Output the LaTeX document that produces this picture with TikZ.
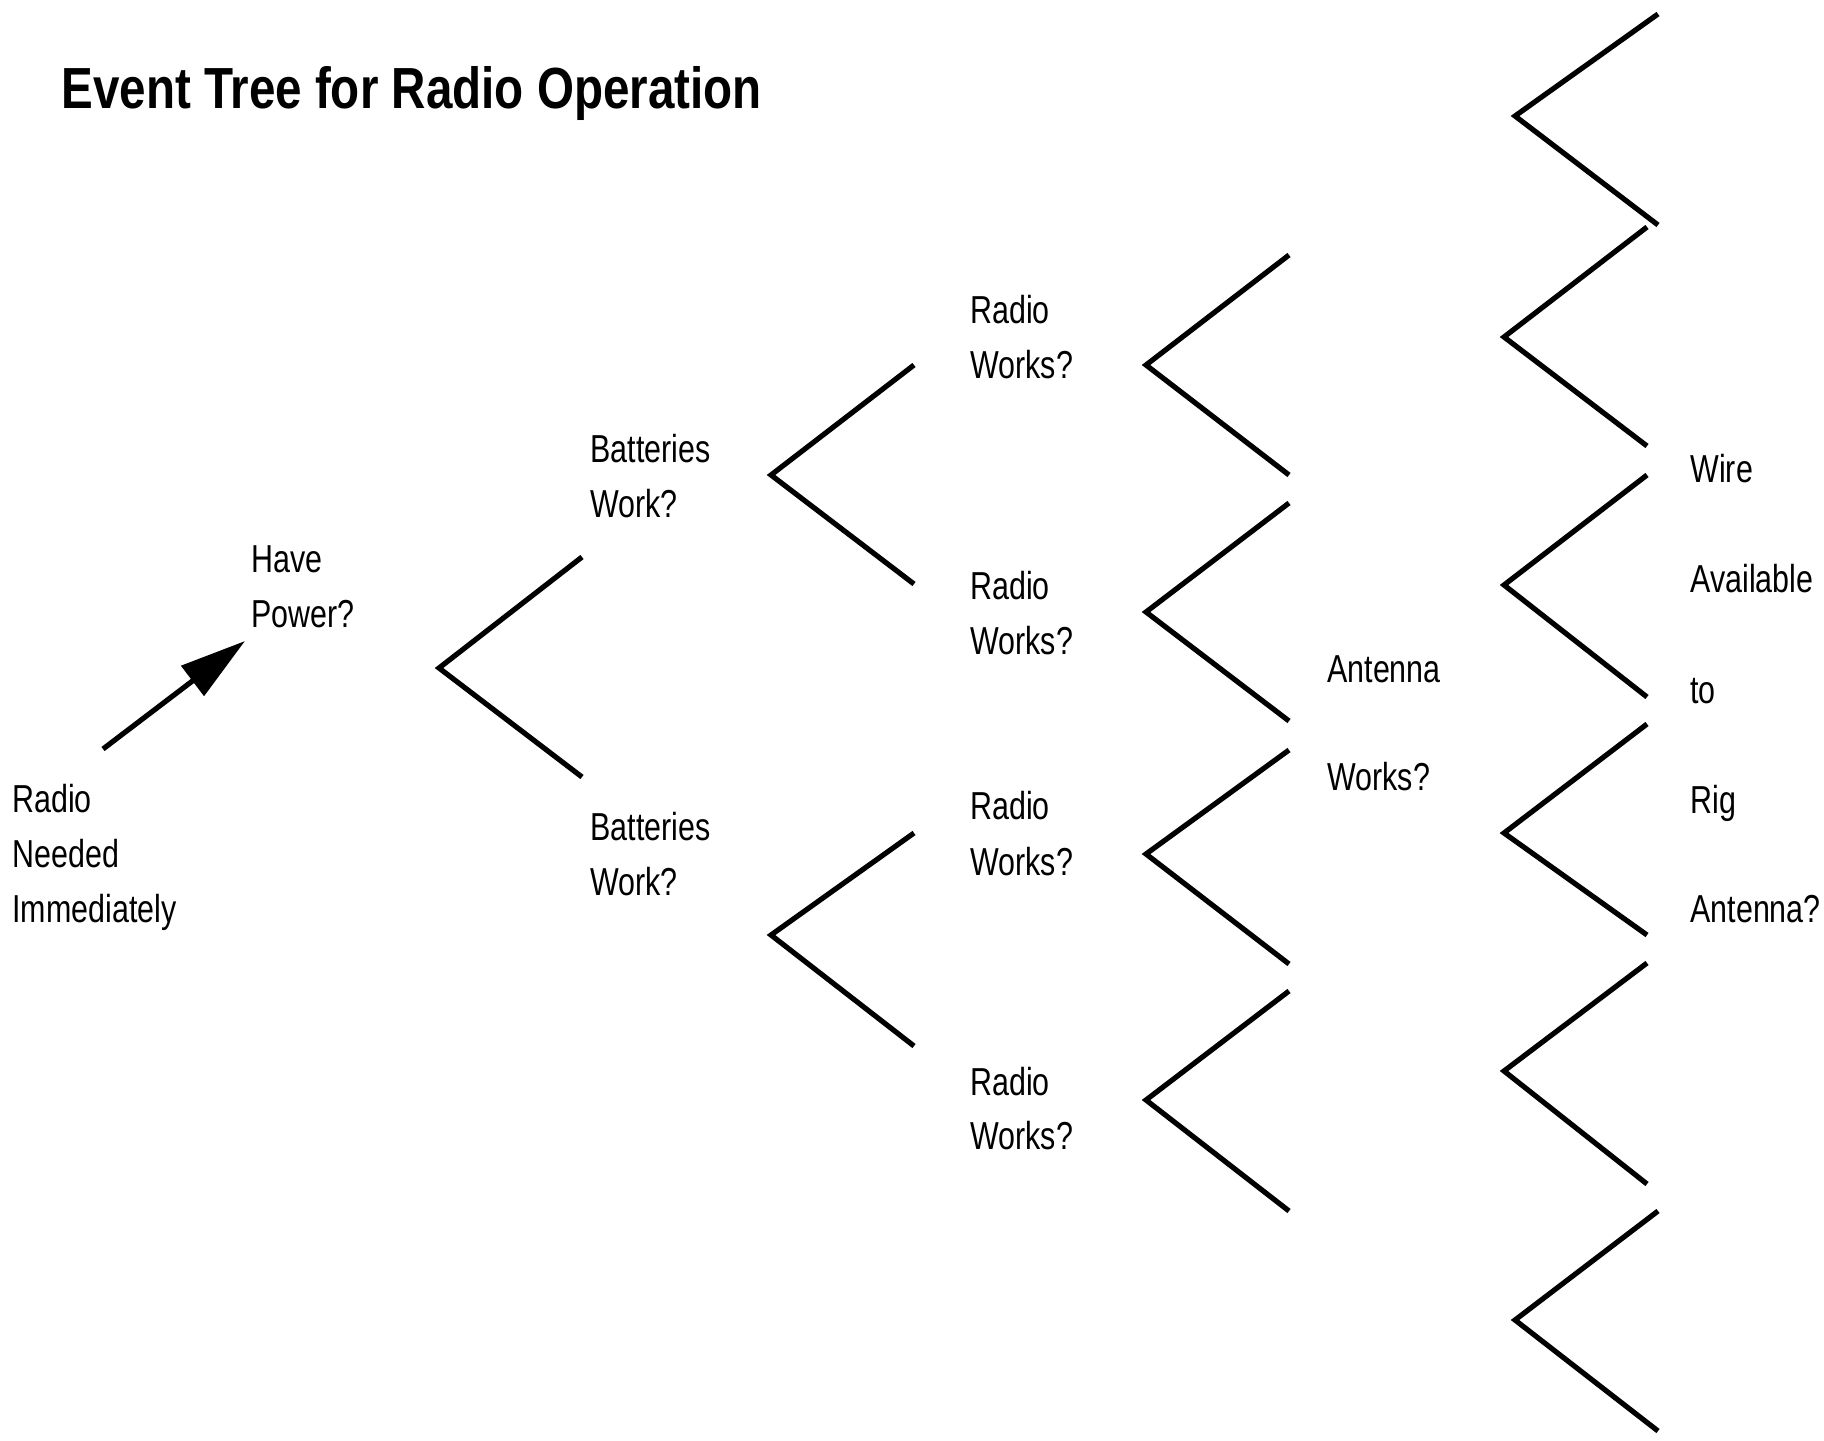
\documentclass[tikz,border=0pt]{standalone}
\usepackage{fontspec}
\newfontfamily\labfont[FakeStretch=0.78]{Liberation Sans}
\newfontfamily\titlefont[FakeStretch=0.82]{Liberation Sans Bold}
\usetikzlibrary{arrows.meta}
\tikzset{
  branch/.style={line width=2.6pt, line join=miter},
  lbl/.style={anchor=base west, inner sep=0pt, font=\labfont\fontsize{19.5pt}{27pt}\selectfont},
  ttl/.style={anchor=base west, inner sep=0pt, font=\titlefont\fontsize{29pt}{34pt}\selectfont},
}
\begin{document}
\begin{tikzpicture}[x=0.5pt,y=-0.5pt]
\useasboundingbox[fill=white] (0,0) rectangle (1824,1440);

% title
\node[ttl] (title) at (61,108) {Event Tree for Radio Operation};

% labels
\node[lbl] (rn1) at (12,812) {Radio};
\node[lbl] (rn2) at (12,867) {Needed};
\node[lbl] (rn3) at (12,922) {Immediately};
\node[lbl] (hp1) at (251,572) {Have};
\node[lbl] (hp2) at (251,627) {Power?};
\node[lbl] (ba1) at (590,462) {Batteries};
\node[lbl] (ba2) at (590,517) {Work?};
\node[lbl] (bb1) at (590,840) {Batteries};
\node[lbl] (bb2) at (590,895) {Work?};
\node[lbl] (ra1) at (970,323) {Radio};
\node[lbl] (ra2) at (970,378) {Works?};
\node[lbl] (rb1) at (970,599) {Radio};
\node[lbl] (rb2) at (970,654) {Works?};
\node[lbl] (rc1) at (970,819) {Radio};
\node[lbl] (rc2) at (970,875) {Works?};
\node[lbl] (rd1) at (970,1095) {Radio};
\node[lbl] (rd2) at (970,1149) {Works?};
\node[lbl] (an1) at (1327,682) {Antenna};
\node[lbl] (an2) at (1327,790) {Works?};
\node[lbl] (wi1) at (1690,482) {Wire};
\node[lbl] (wi2) at (1690,592) {Available};
\node[lbl] (wi3) at (1690,703) {to};
\node[lbl] (wi4) at (1690,813) {Rig};
\node[lbl] (wi5) at (1690,922) {Antenna?};

% arrow
\coordinate (src) at (103,749);
\coordinate (tip) at (245,641);
\draw[line width=2.6pt, -{Triangle[length=33pt,width=18.4pt]}] (src) -- (tip);

% level 1
\coordinate (v1) at (439,668);
\coordinate (e1a) at (582,557);
\coordinate (e1b) at (582,777);
\draw[branch] (e1a) -- (v1) -- (e1b);

% level 2
\coordinate (v2a) at (771,475);
\coordinate (e2a1) at (914,365);
\coordinate (e2a2) at (914,584);
\draw[branch] (e2a1) -- (v2a) -- (e2a2);
\coordinate (v2b) at (771,935);
\coordinate (e2b1) at (914,833);
\coordinate (e2b2) at (914,1046);
\draw[branch] (e2b1) -- (v2b) -- (e2b2);

% level 3
\coordinate (v3a) at (1146,365);
\coordinate (e3a1) at (1289,255);
\coordinate (e3a2) at (1289,475);
\draw[branch] (e3a1) -- (v3a) -- (e3a2);
\coordinate (v3b) at (1146,612);
\coordinate (e3b1) at (1289,503);
\coordinate (e3b2) at (1289,721);
\draw[branch] (e3b1) -- (v3b) -- (e3b2);
\coordinate (v3c) at (1146,854);
\coordinate (e3c1) at (1289,750);
\coordinate (e3c2) at (1289,964);
\draw[branch] (e3c1) -- (v3c) -- (e3c2);
\coordinate (v3d) at (1146,1100);
\coordinate (e3d1) at (1289,991);
\coordinate (e3d2) at (1289,1211);
\draw[branch] (e3d1) -- (v3d) -- (e3d2);

% level 4
\coordinate (v4a) at (1515,116);
\coordinate (e4a1) at (1658,14);
\coordinate (e4a2) at (1658,225);
\draw[branch] (e4a1) -- (v4a) -- (e4a2);
\coordinate (v4b) at (1504,337);
\coordinate (e4b1) at (1647,227);
\coordinate (e4b2) at (1647,446);
\draw[branch] (e4b1) -- (v4b) -- (e4b2);
\coordinate (v4c) at (1504,585);
\coordinate (e4c1) at (1647,475);
\coordinate (e4c2) at (1647,697);
\draw[branch] (e4c1) -- (v4c) -- (e4c2);
\coordinate (v4d) at (1504,833);
\coordinate (e4d1) at (1647,724);
\coordinate (e4d2) at (1647,935);
\draw[branch] (e4d1) -- (v4d) -- (e4d2);
\coordinate (v4e) at (1504,1071);
\coordinate (e4e1) at (1647,963);
\coordinate (e4e2) at (1647,1184);
\draw[branch] (e4e1) -- (v4e) -- (e4e2);
\coordinate (v4f) at (1515,1320);
\coordinate (e4f1) at (1658,1211);
\coordinate (e4f2) at (1658,1431);
\draw[branch] (e4f1) -- (v4f) -- (e4f2);
\end{tikzpicture}
\end{document}
